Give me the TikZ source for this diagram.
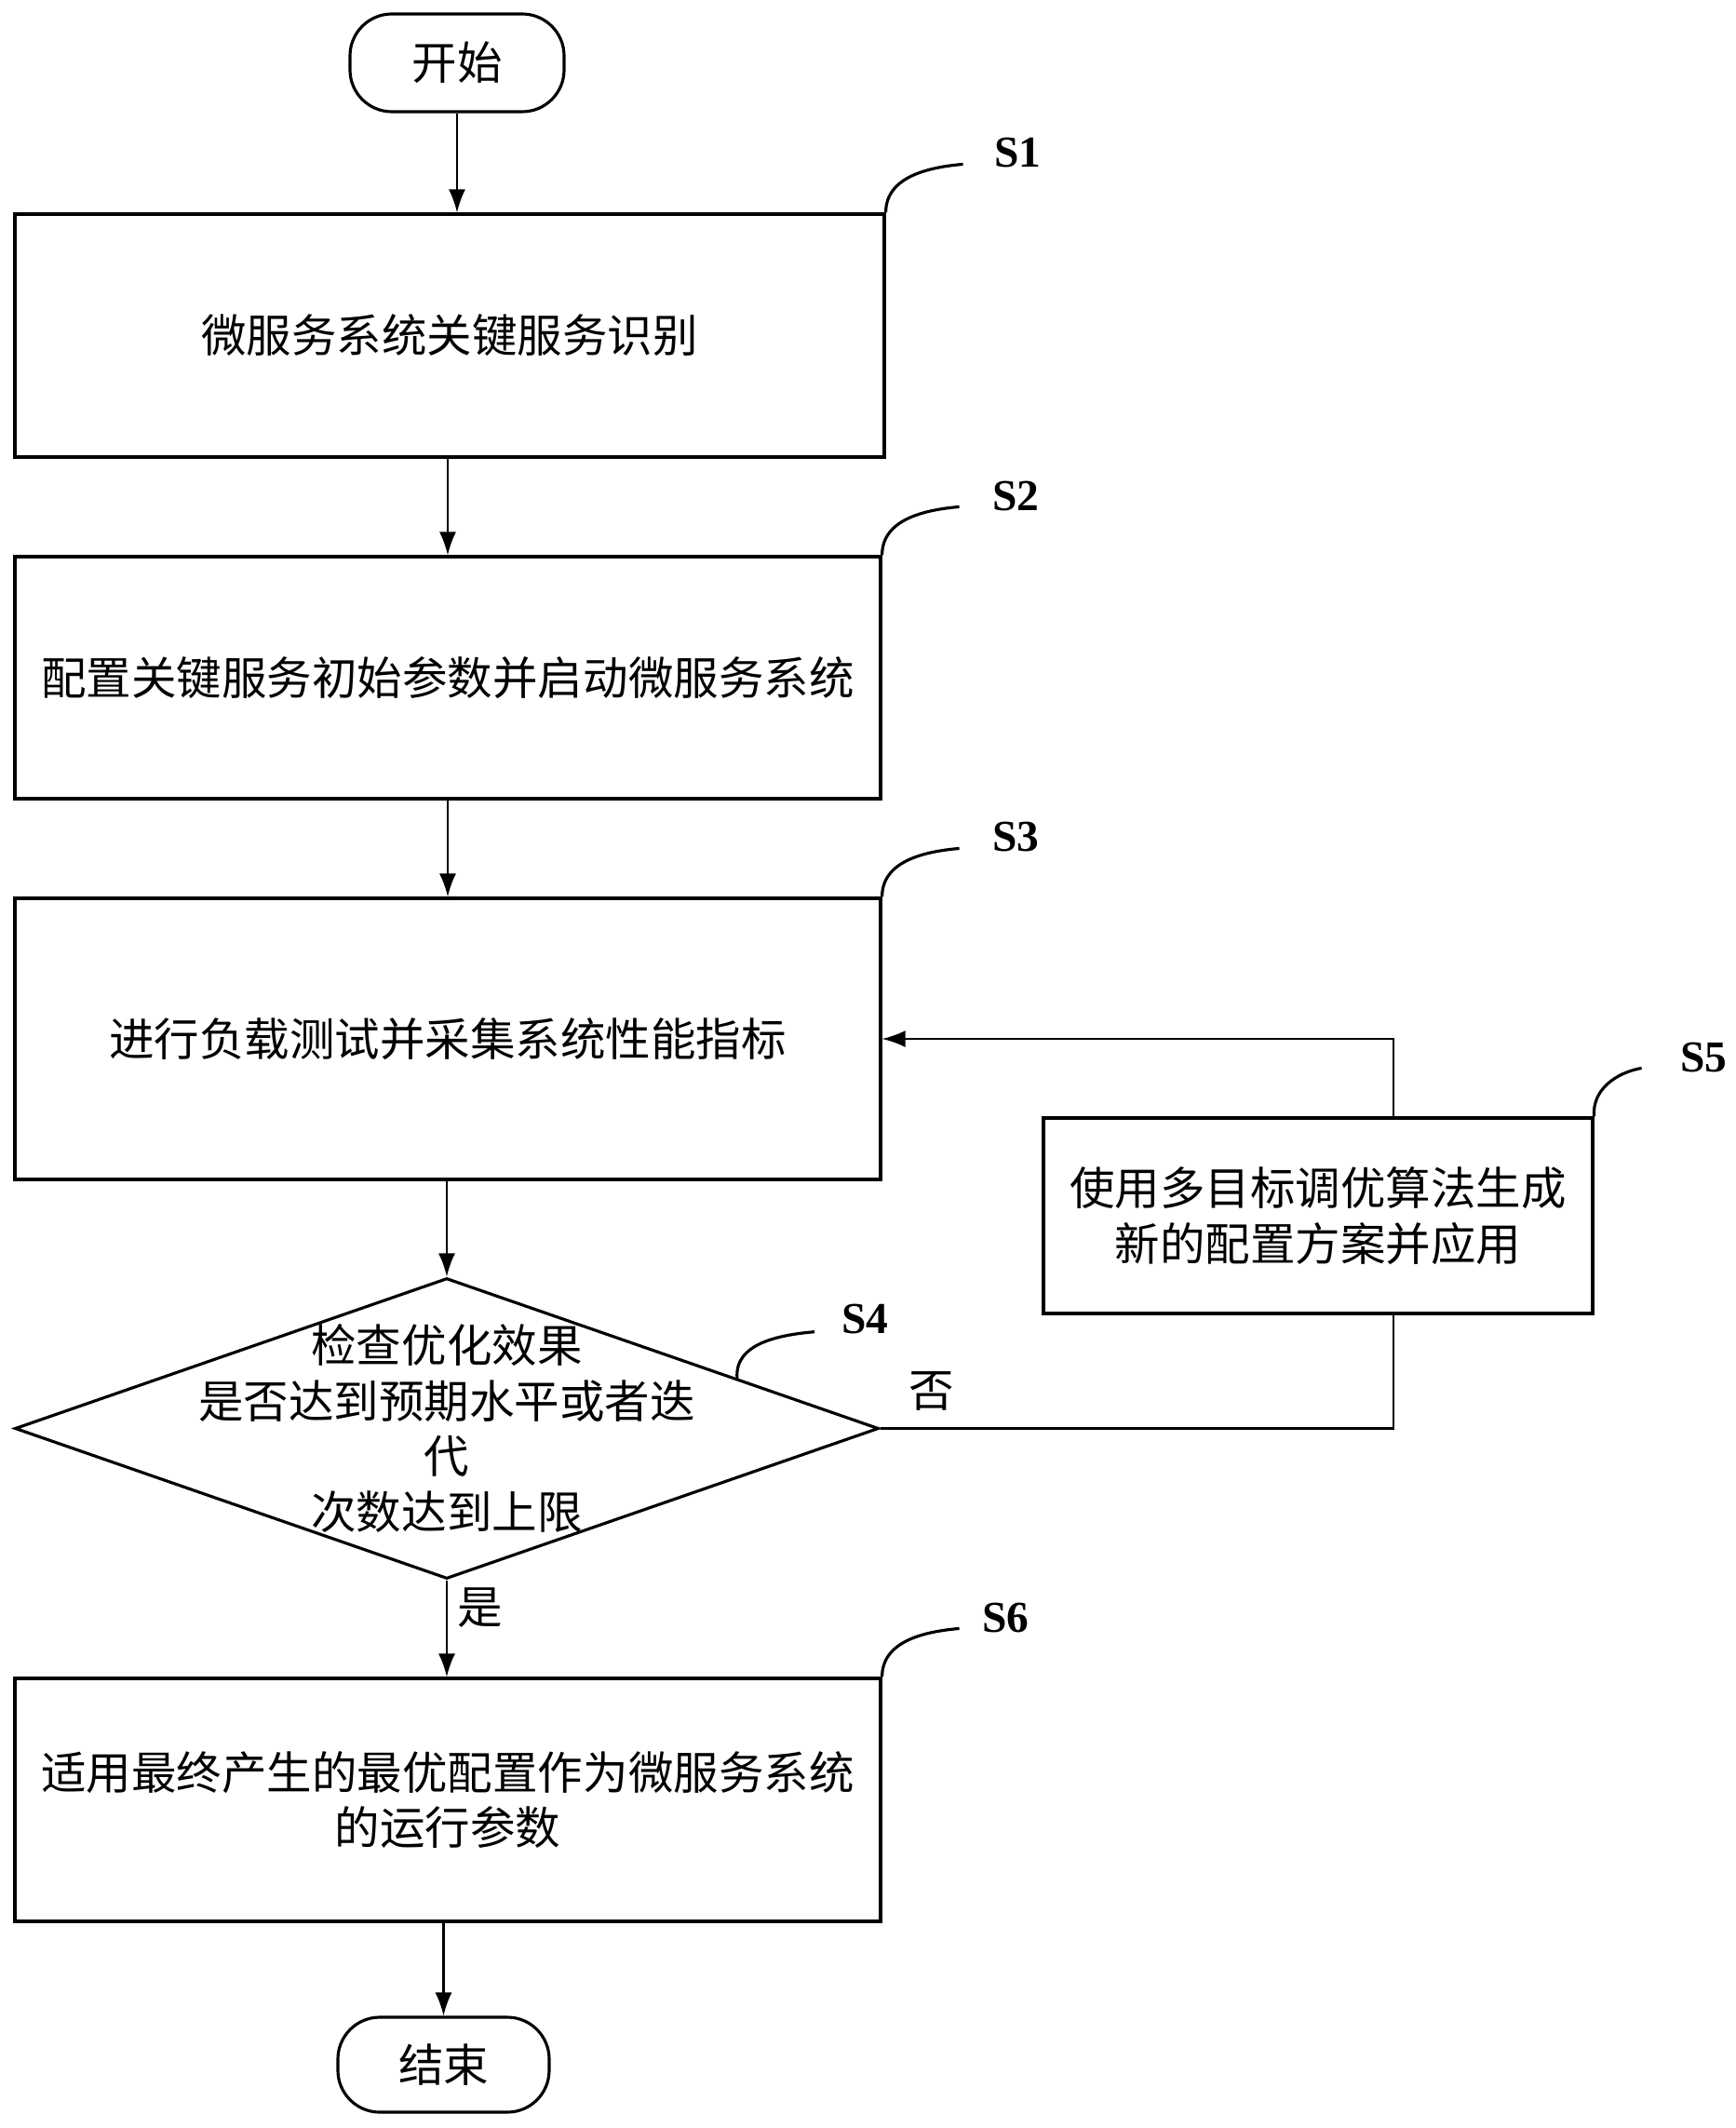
\documentclass[tikz,border=0pt]{standalone}
\usepackage{fontspec}
\setmainfont{Liberation Serif}
\newfontfamily\cjk{Noto Sans CJK SC}
\usetikzlibrary{arrows.meta}
\usetikzlibrary{calc}
\usetikzlibrary{shapes.geometric}

\begin{document}
\begin{tikzpicture}[line/.style={>={Latex[length=2.5mm,width=1.8mm]}, line width=0.6pt},
  box/.style={draw, line width=0.9pt, align=center, inner sep=0pt,
    font=\cjk\fontsize{13.8}{17}\selectfont},
  term/.style={box, rounded corners=0.45cm},
  decision/.style={draw, diamond, line width=0.9pt, inner sep=0pt},
  tag/.style={font=\bfseries\fontsize{13.5}{16}\selectfont, inner sep=0pt},
  answer/.style={font=\cjk\fontsize{13.8}{17}\selectfont, inner sep=0pt}]
\useasboundingbox (0,0) rectangle (18.64,-22.86);

\node[term, minimum width=2.30cm, minimum height=1.05cm] (start) at (4.91,-0.675) {开始};
\node[box, minimum width=9.34cm, minimum height=2.61cm] (s1) at (4.83,-3.605) {微服务系统关键服务识别};
\node[box, minimum width=9.30cm, minimum height=2.60cm] (s2) at (4.81,-7.28) {配置关键服务初始参数并启动微服务系统};
\node[box, minimum width=9.30cm, minimum height=3.02cm] (s3) at (4.81,-11.16) {进行负载测试并采集系统性能指标};
\node[decision, minimum width=9.28cm, minimum height=3.23cm] (s4) at (4.80,-15.345) {};
\node[box, draw=none] (s4text) at (s4.center) {检查优化效果\\是否达到预期水平或者迭\\代\\次数达到上限};
\node[box, minimum width=5.90cm, minimum height=2.10cm] (s5) at (14.16,-13.06) {使用多目标调优算法生成\\新的配置方案并应用};
\node[box, minimum width=9.30cm, minimum height=2.61cm] (s6) at (4.81,-19.335) {适用最终产生的最优配置作为微服务系统\\的运行参数};
\node[term, minimum width=2.27cm, minimum height=1.02cm] (end) at (4.765,-22.18) {结束};

% main flow
\draw[->, line] (start.south) -- (start.south |- s1.north);
\draw[->, line] (s2.north |- s1.south) -- (s2.north);
\draw[->, line] (s2.south) -- (s3.north);
\draw[->, line] (s3.south -| s4.north) -- (s4.north);
\draw[->, line] (s4.south) -- node [answer, pos=0.28, right=0.1cm] (yes) {是} (s4.south |- s6.north);
\draw[->, line] (s6.south -| end.north) -- (end.north);

% loop back through S5
\coordinate (loop) at (14.97,-15.345);
\draw[line] (s4.east) -- node [answer, pos=0.1, above=0.18cm] (no) {否} (loop) -- (loop |- s5.south);
\draw[->, line] (loop |- s5.north) |- (s3.east);

% step tags
\coordinate (c4) at ($(s4.north)!0.67!(s4.east)$);
\draw[line width=0.9pt] (s1.north east) to[out=90,in=185] ++(0.83,0.52) node[tag, anchor=west, xshift=0.32cm, yshift=0.12cm] (t1) {S1};
\draw[line width=0.9pt] (s2.north east) to[out=90,in=185] ++(0.83,0.52) node[tag, anchor=west, xshift=0.34cm, yshift=0.11cm] (t2) {S2};
\draw[line width=0.9pt] (s3.north east) to[out=90,in=185] ++(0.83,0.52) node[tag, anchor=west, xshift=0.34cm, yshift=0.12cm] (t3) {S3};
\draw[line width=0.9pt] (c4) to[out=95,in=185] ++(0.83,0.50) node[tag, anchor=west, xshift=0.28cm, yshift=0.14cm] (t4) {S4};
\draw[line width=0.9pt] (s5.north east) to[out=95,in=190] ++(0.51,0.52) node[tag, anchor=west, xshift=0.40cm, yshift=0.11cm] (t5) {S5};
\draw[line width=0.9pt] (s6.north east) to[out=90,in=185] ++(0.83,0.52) node[tag, anchor=west, xshift=0.23cm, yshift=0.11cm] (t6) {S6};

\end{tikzpicture}
\end{document}
